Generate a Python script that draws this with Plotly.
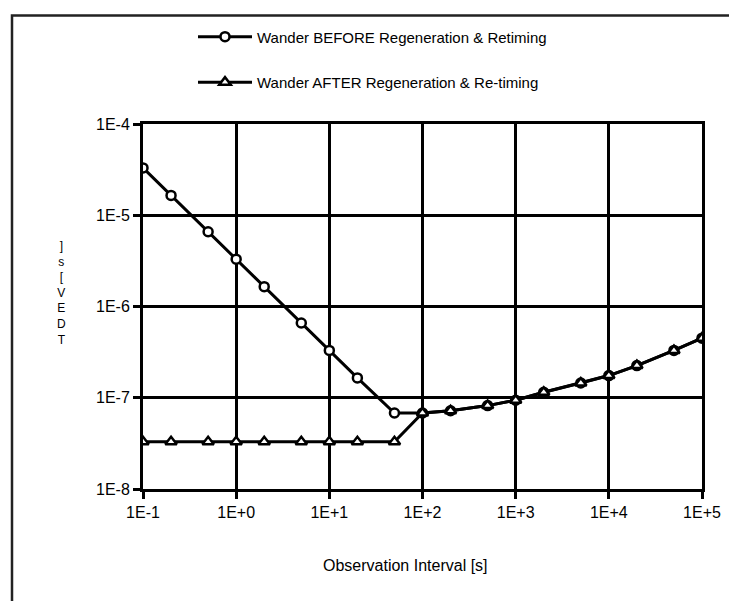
import plotly.graph_objects as go

# ---- data ----
obs_interval = [0.1, 0.2, 0.5, 1, 2, 5, 10, 20, 50, 100, 200, 500,
                1000, 2000, 5000, 10000, 20000, 50000, 100000]
wander_before = [3.3e-5, 1.65e-5, 6.6e-6, 3.3e-6, 1.65e-6, 6.6e-7, 3.3e-7,
                 1.65e-7, 6.8e-8, 6.8e-8, 7.2e-8, 8.2e-8, 9.4e-8, 1.15e-7,
                 1.45e-7, 1.75e-7, 2.25e-7, 3.3e-7, 4.5e-7]
wander_after = [3.3e-8, 3.3e-8, 3.3e-8, 3.3e-8, 3.3e-8, 3.3e-8, 3.3e-8,
                3.3e-8, 3.3e-8, 6.8e-8, 7.2e-8, 8.2e-8, 9.4e-8, 1.15e-7,
                1.45e-7, 1.75e-7, 2.25e-7, 3.3e-7, 4.5e-7]
series_names = ["Wander BEFORE Regeneration & Retiming",
                "Wander AFTER Regeneration & Re-timing"]
x_tickvals = [0.1, 1, 10, 100, 1000, 10000, 100000]
x_ticktext = ["1E-1", "1E+0", "1E+1", "1E+2", "1E+3", "1E+4", "1E+5"]
y_tickvals = [1e-8, 1e-7, 1e-6, 1e-5, 1e-4]
y_ticktext = ["1E-8", "1E-7", "1E-6", "1E-5", "1E-4"]
x_title = "Observation Interval [s]"
y_title = "TDEV [s]"

# page body margin offsets the figure by 8px; layout in window pixels
OFF = 8
W, H = 737 - OFF, 601 - OFF
PL, PR, PT, PB = 143, 702, 119, 489          # plot area in window pixels
L, R, T, B = PL - OFF, W - (PR - OFF), PT - OFF, H - (PB - OFF)
PW, PH = PR - PL, PB - PT
FONT = "Liberation Sans, Arial, sans-serif"


def px_x(p):
    return (p - PL) / PW


def px_y(p):
    return (PB - p) / PH


fig = go.Figure()
fig.add_trace(go.Scatter(
    x=obs_interval, y=wander_before, name=series_names[0], mode="lines+markers",
    legendgroup="a",
    line=dict(color="black", width=3),
    marker=dict(symbol="circle", size=9, color="white",
                line=dict(color="black", width=2.5)),
))
fig.add_trace(go.Scatter(
    x=obs_interval, y=wander_after, name=series_names[1], mode="lines+markers",
    legendgroup="b",
    line=dict(color="black", width=3),
    marker=dict(symbol="triangle-up", size=10, color="white",
                line=dict(color="black", width=2.5)),
))

axis_common = dict(
    showline=True, mirror=True, linecolor="black", linewidth=3,
    showgrid=True, gridcolor="black", gridwidth=3,
    ticks="outside", ticklen=7, tickwidth=3, tickcolor="black",
    zeroline=False,
    tickfont=dict(family=FONT, size=16, color="black"),
)
fig.update_xaxes(type="log", range=[-1, 5], tickvals=x_tickvals,
                 ticktext=x_ticktext, **axis_common)
fig.update_yaxes(type="log", range=[-8, -4], tickvals=y_tickvals,
                 ticktext=y_ticktext, **axis_common)

# stacked (top-to-bottom reversed) y title as in the reference
stacked = "<br>".join(reversed([c for c in y_title if c != " "]))
annotations = [
    dict(text=x_title, xref="paper", yref="paper", x=px_x(405), y=px_y(567),
         showarrow=False, font=dict(family=FONT, size=16, color="black"),
         xanchor="center", yanchor="middle"),
    dict(text=stacked, xref="paper", yref="paper", x=px_x(61), y=px_y(290),
         showarrow=False, font=dict(family=FONT, size=12, color="black"),
         xanchor="center", yanchor="middle", align="center"),
]

fig.update_layout(
    width=W, height=H,
    margin=dict(l=L, r=R, t=T, b=B, pad=0),
    paper_bgcolor="white", plot_bgcolor="white",
    showlegend=True,
    legend=dict(x=px_x(193), y=px_y(14), xanchor="left", yanchor="top",
                bgcolor="rgba(0,0,0,0)", tracegroupgap=23, itemwidth=54,
                font=dict(family=FONT, size=15, color="black")),
    annotations=annotations,
    shapes=[dict(type="rect", xref="paper", yref="paper",
                 x0=px_x(12), x1=px_x(780), y0=px_y(660), y1=px_y(9),
                 line=dict(color="#222222", width=2.5), layer="below")],
)

fig.write_html("out.html")
